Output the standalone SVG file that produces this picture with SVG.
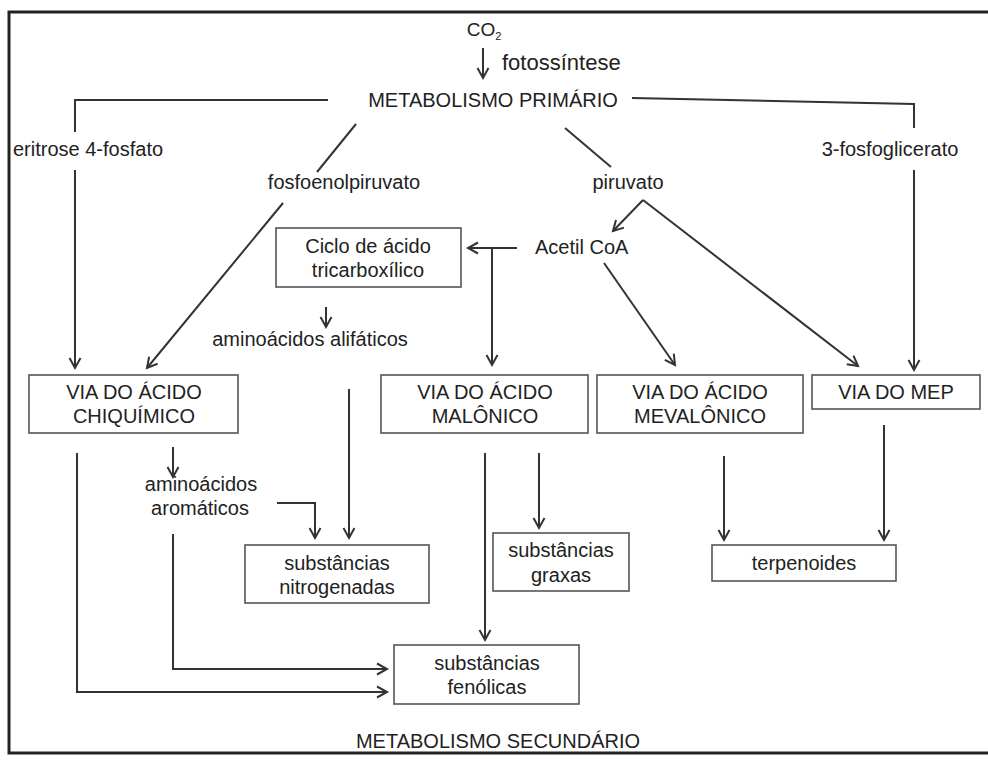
<svg xmlns="http://www.w3.org/2000/svg" width="988" height="761" viewBox="0 0 988 761">
<style>
text{font-family:"Liberation Sans",Arial,sans-serif;font-size:20px;fill:#222;text-anchor:middle}
.l{text-anchor:start}
.box{fill:#fff;stroke:#555;stroke-width:1.6}
.c{fill:none;stroke:#333;stroke-width:2}
</style>
<defs>
<marker id="a" markerUnits="userSpaceOnUse" markerWidth="14" markerHeight="14" refX="11" refY="7" orient="auto">
<path d="M1,1.5 L11,7 L1,12.5" fill="none" stroke="#333" stroke-width="2"/>
</marker>
</defs>
<rect x="0" y="0" width="988" height="761" fill="#fff"/>
<rect x="9" y="12" width="990" height="741" fill="none" stroke="#222" stroke-width="3"/>
<g id="connectors">
<line class="c" x1="483" y1="48" x2="483" y2="78" marker-end="url(#a)"/>
<polyline class="c" points="328,100 75,100 75,132"/>
<line class="c" x1="75" y1="170" x2="75" y2="368" marker-end="url(#a)"/>
<line class="c" x1="356" y1="124" x2="317" y2="172"/>
<line class="c" x1="283" y1="203" x2="147" y2="368" marker-end="url(#a)"/>
<line class="c" x1="565" y1="128" x2="611" y2="167"/>
<polyline class="c" points="632,98 914,104 914,128"/>
<line class="c" x1="914" y1="170" x2="914" y2="370" marker-end="url(#a)"/>
<line class="c" x1="643" y1="200" x2="613" y2="231" marker-end="url(#a)"/>
<line class="c" x1="643" y1="200" x2="858" y2="366" marker-end="url(#a)"/>
<line class="c" x1="517" y1="248" x2="468" y2="248" marker-end="url(#a)"/>
<line class="c" x1="492" y1="248" x2="492" y2="365" marker-end="url(#a)"/>
<line class="c" x1="604" y1="263" x2="675" y2="365" marker-end="url(#a)"/>
<line class="c" x1="326" y1="307" x2="326" y2="327" marker-end="url(#a)"/>
<line class="c" x1="349" y1="389" x2="349" y2="538" marker-end="url(#a)"/>
<line class="c" x1="173" y1="447" x2="173" y2="477" marker-end="url(#a)"/>
<polyline class="c" points="277,503 315,503 315,538" marker-end="url(#a)"/>
<polyline class="c" points="173,534 173,669 387,669" marker-end="url(#a)"/>
<polyline class="c" points="77,453 77,692 387,692" marker-end="url(#a)"/>
<line class="c" x1="485" y1="453" x2="485" y2="640" marker-end="url(#a)"/>
<line class="c" x1="539" y1="453" x2="539" y2="528" marker-end="url(#a)"/>
<line class="c" x1="724" y1="456" x2="724" y2="540" marker-end="url(#a)"/>
<line class="c" x1="884" y1="425" x2="884" y2="540" marker-end="url(#a)"/>
</g>
<g id="co2"><text x="484" y="36" style="font-size:19px">CO<tspan font-size="11" dy="4">2</tspan></text></g>
<g id="fotossintese"><text class="l" x="502" y="70" style="font-size:22px">fotossíntese</text></g>
<g id="primario"><text x="493" y="107">METABOLISMO PRIMÁRIO</text></g>
<g id="eritrose"><text class="l" x="13" y="156">eritrose 4-fosfato</text></g>
<g id="fosfoenol"><text x="344" y="189">fosfoenolpiruvato</text></g>
<g id="piruvato"><text x="628" y="189">piruvato</text></g>
<g id="fosfoglicerato"><text x="890" y="156">3-fosfoglicerato</text></g>
<g id="ciclo"><rect class="box" x="276" y="228" width="185" height="59"/><text x="368" y="253">Ciclo de ácido</text><text x="368" y="277">tricarboxílico</text></g>
<g id="acetil"><text class="l" x="535" y="254">Acetil CoA</text></g>
<g id="alifaticos"><text x="310" y="346">aminoácidos alifáticos</text></g>
<g id="chiquimico"><rect class="box" x="29" y="375" width="209" height="58"/><text x="134" y="399">VIA DO ÁCIDO</text><text x="134" y="423">CHIQUÍMICO</text></g>
<g id="malonico"><rect class="box" x="381" y="375" width="207" height="58"/><text x="485" y="399">VIA DO ÁCIDO</text><text x="485" y="423">MALÔNICO</text></g>
<g id="mevalonico"><rect class="box" x="597" y="375" width="206" height="58"/><text x="700" y="399">VIA DO ÁCIDO</text><text x="700" y="423">MEVALÔNICO</text></g>
<g id="mep"><rect class="box" x="812" y="375" width="168" height="34"/><text x="896" y="399">VIA DO MEP</text></g>
<g id="aromaticos"><text x="201" y="491">aminoácidos</text><text x="200" y="515">aromáticos</text></g>
<g id="nitrogenadas"><rect class="box" x="245" y="545" width="184" height="58"/><text x="337" y="570">substâncias</text><text x="337" y="594">nitrogenadas</text></g>
<g id="graxas"><rect class="box" x="493" y="533" width="136" height="58"/><text x="561" y="557">substâncias</text><text x="561" y="582">graxas</text></g>
<g id="terpenoides"><rect class="box" x="712" y="545" width="184" height="36"/><text x="804" y="570">terpenoides</text></g>
<g id="fenolicas"><rect class="box" x="394" y="645" width="185" height="59"/><text x="487" y="670">substâncias</text><text x="487" y="694">fenólicas</text></g>
<g id="secundario"><text x="498" y="748">METABOLISMO SECUNDÁRIO</text></g>
</svg>
